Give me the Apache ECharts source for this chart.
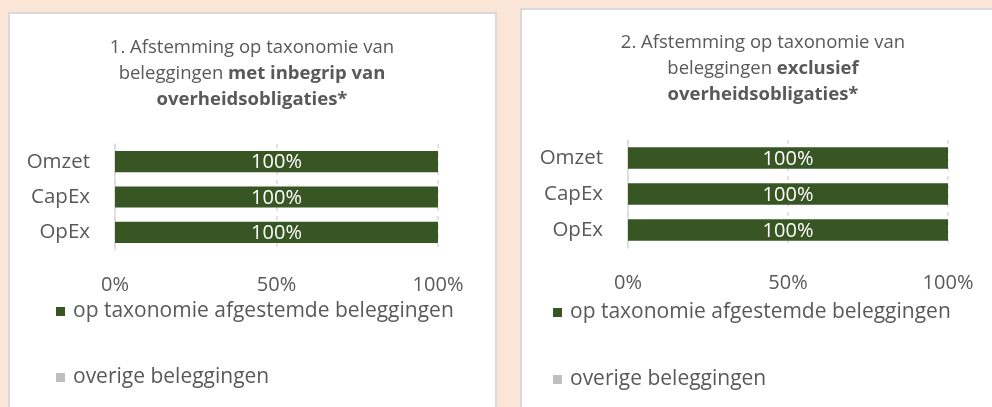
<!DOCTYPE html>
<html>
<head>
<meta charset="utf-8">
<script src="https://cdn.jsdelivr.net/npm/echarts@6/dist/echarts.min.js"></script>
<style>
html, body { margin: 0; padding: 0; background: #fbe5d6; }
#chart { width: 992px; height: 407px; }
</style>
</head>
<body>
<div id="chart"></div>
<script>
var categories = ['Omzet', 'CapEx', 'OpEx'];
var alignedWithGov = [1, 1, 1];
var otherWithGov = [0, 0, 0];
var alignedExclGov = [1, 1, 1];
var otherExclGov = [0, 0, 0];
var seriesNames = ['op taxonomie afgestemde beleggingen', 'overige beleggingen'];
var titleLeft = '1. Afstemming op taxonomie van\nbeleggingen {b|met inbegrip van}\n{b|overheidsobligaties*}';
var titleRight = '2. Afstemming op taxonomie van\nbeleggingen {b|exclusief}\n{b|overheidsobligaties*}';

var font = 'Open Sans';
var textColor = '#595959';
var green = '#375623';
var gray = '#bfbfbf';

function pct(v) { return Math.round(v * 100) + '%'; }

function makeTitle(text, left, top) {
    return {
        text: text,
        left: left,
        top: top,
        textAlign: 'center',
        padding: 0,
        textStyle: {
            fontFamily: font,
            fontSize: 18.5,
            fontWeight: 'normal',
            color: textColor,
            lineHeight: 26,
            rich: {
                b: { fontFamily: font, fontSize: 18.5, fontWeight: 'bold', color: textColor, lineHeight: 26 }
            }
        }
    };
}

function makeLegend(left, top, gap) {
    return {
        data: seriesNames,
        orient: 'vertical',
        left: left,
        top: top,
        padding: 0,
        icon: 'rect',
        itemWidth: 9,
        itemHeight: 9,
        itemGap: gap,
        selectedMode: false,
        textStyle: { fontFamily: font, fontSize: 21, color: textColor, lineHeight: 20, padding: [0, 0, 0, 3] }
    };
}

function makeX(idx) {
    return {
        type: 'value',
        gridIndex: idx,
        min: 0,
        max: 1,
        interval: 0.5,
        axisLine: { show: false },
        axisTick: { show: false },
        splitLine: { lineStyle: { color: '#d9d9d9', type: [4, 5], width: 1.5 } },
        axisLabel: { formatter: pct, margin: 25, fontFamily: font, fontSize: 20, color: textColor }
    };
}

function makeY(idx) {
    return {
        type: 'category',
        gridIndex: idx,
        data: categories,
        inverse: true,
        axisLine: { lineStyle: { color: '#d9d9d9', width: 1.5 } },
        axisTick: { length: 6, lineStyle: { color: '#d9d9d9', width: 1.5 } },
        axisLabel: { margin: 25, fontFamily: font, fontSize: 20.5, color: textColor }
    };
}

function makeSeries(idx, aligned, other) {
    return [{
        name: seriesNames[0],
        type: 'bar',
        stack: 's' + idx,
        xAxisIndex: idx,
        yAxisIndex: idx,
        barCategoryGap: '40%',
        data: aligned,
        itemStyle: { color: green },
        label: {
            show: true,
            position: 'inside',
            offset: [0, 1],
            formatter: function (p) { return pct(p.value); },
            fontFamily: font,
            fontSize: 20,
            color: '#fff'
        }
    }, {
        name: seriesNames[1],
        type: 'bar',
        stack: 's' + idx,
        xAxisIndex: idx,
        yAxisIndex: idx,
        barCategoryGap: '40%',
        data: other,
        itemStyle: { color: gray },
        label: { show: false }
    }];
}

var myChart = echarts.init(document.getElementById('chart'));
var option = {
    backgroundColor: '#fbe5d6',
    animation: false,
    graphic: [
        { type: 'rect', z: -10, silent: true, shape: { x: 9, y: 13, width: 487, height: 420 },
          style: { fill: '#fff', stroke: '#d9d9d9', lineWidth: 2 } },
        { type: 'rect', z: -10, silent: true, shape: { x: 521, y: 9, width: 500, height: 420 },
          style: { fill: '#fff', stroke: '#d9d9d9', lineWidth: 2 } }
    ],
    title: [makeTitle(titleLeft, 252, 35), makeTitle(titleRight, 763, 30)],
    legend: [makeLegend(56, 301, 45), makeLegend(553, 302, 46)],
    grid: [
        { left: 115, top: 144, width: 323, height: 106 },
        { left: 628, top: 140, width: 320, height: 108 }
    ],
    xAxis: [makeX(0), makeX(1)],
    yAxis: [makeY(0), makeY(1)],
    series: makeSeries(0, alignedWithGov, otherWithGov).concat(makeSeries(1, alignedExclGov, otherExclGov))
};
myChart.setOption(option);
</script>
</body>
</html>
